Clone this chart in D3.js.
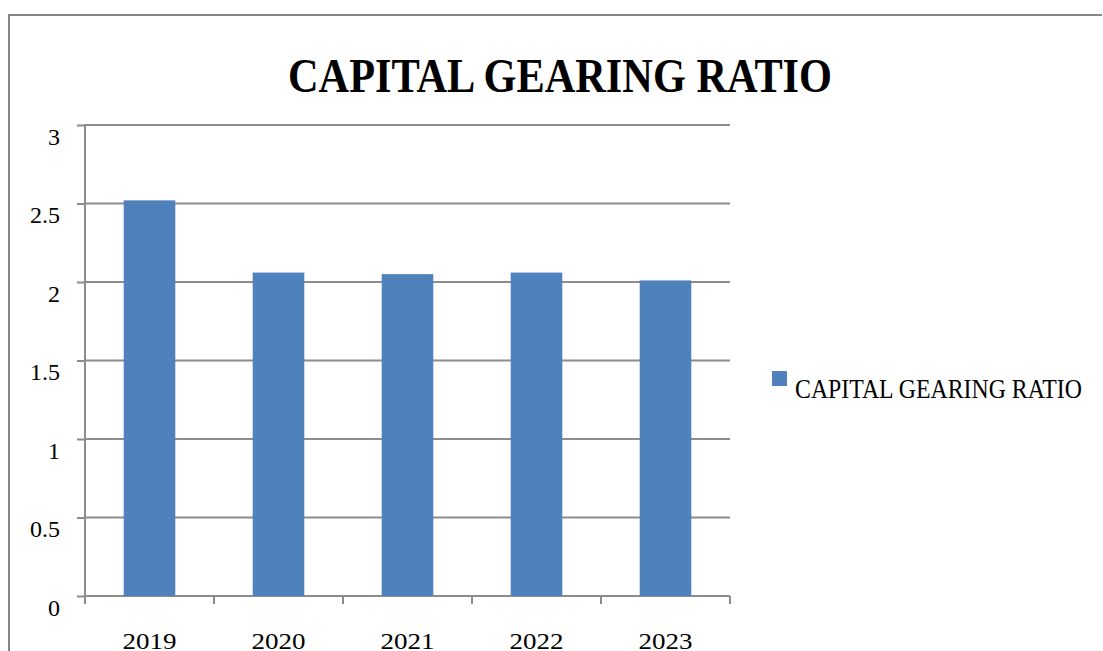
<!DOCTYPE html>
<html>
<head>
<meta charset="utf-8">
<script src="https://cdn.jsdelivr.net/npm/d3@7"></script>
<style>
  html, body { margin: 0; padding: 0; background: #fff; }
  svg { display: block; }
</style>
</head>
<body>
<svg id="chart" width="1103" height="651"></svg>
<script>
// Capital gearing ratio by year
const years = ["2019", "2020", "2021", "2022", "2023"];
const gearingRatio = [2.52, 2.06, 2.05, 2.06, 2.01];
const yTicks = [0, 0.5, 1, 1.5, 2, 2.5, 3];
const chartTitle = "CAPITAL GEARING RATIO";
const seriesName = "CAPITAL GEARING RATIO";

const svg = d3.select("#chart");
const W = 1103, H = 651;
const serif = "'Liberation Serif', 'DejaVu Serif', serif";
const gridColor = "#8c8c8c";
const barColor = "#4f81bd";

const plot = { left: 85, right: 730, top: 125, bottom: 596 };

// outer chart frame (runs off the right and bottom edges)
svg.append("path")
  .attr("d", `M9,${H + 5} L9,15 L${W - 1},15`)
  .attr("fill", "none")
  .attr("stroke", "#878787")
  .attr("stroke-width", 2);

// title
svg.append("text")
  .attr("x", 560)
  .attr("y", 92)
  .attr("text-anchor", "middle")
  .attr("font-family", serif)
  .attr("font-weight", "bold")
  .attr("font-size", 48)
  .attr("textLength", 544)
  .attr("lengthAdjust", "spacingAndGlyphs")
  .attr("fill", "#000")
  .text(chartTitle);

const x = d3.scaleBand()
  .domain(years)
  .range([plot.left, plot.right])
  .paddingInner(0.6)
  .paddingOuter(0.3);

const y = d3.scaleLinear()
  .domain([0, 3])
  .range([plot.bottom, plot.top]);

// horizontal gridlines
svg.append("g")
  .selectAll("line")
  .data(yTicks)
  .join("line")
  .attr("x1", plot.left)
  .attr("x2", plot.right)
  .attr("y1", d => y(d))
  .attr("y2", d => y(d))
  .attr("stroke", gridColor)
  .attr("stroke-width", 2);

// y axis with tick labels
const yAxis = d3.axisLeft(y)
  .tickValues(yTicks)
  .tickSize(8)
  .tickPadding(17)
  .tickFormat(d3.format("~g"));

const gy = svg.append("g")
  .attr("transform", `translate(${plot.left},0)`)
  .call(yAxis);
gy.select(".domain")
  .attr("stroke", gridColor)
  .attr("stroke-width", 2)
  .attr("d", `M0,${plot.top - 1}V${plot.bottom + 8}`);
gy.selectAll(".tick line").attr("stroke", gridColor).attr("stroke-width", 2);
gy.selectAll(".tick text")
  .attr("font-family", serif)
  .attr("font-size", 24)
  .attr("fill", "#000")
  .attr("dy", 0)
  .attr("y", 19);

// bars
svg.append("g")
  .selectAll("rect")
  .data(years.map((yr, i) => ({ yr, v: gearingRatio[i] })))
  .join("rect")
  .attr("x", d => x(d.yr))
  .attr("width", x.bandwidth())
  .attr("y", d => y(d.v))
  .attr("height", d => y(0) - y(d.v))
  .attr("fill", barColor);

// x axis: category labels centred on bars, ticks at category boundaries
const step = x.step();
const boundaries = d3.range(years.length + 1).map(i => plot.left + i * step);
svg.append("g")
  .selectAll("line")
  .data(boundaries)
  .join("line")
  .attr("x1", d => d)
  .attr("x2", d => d)
  .attr("y1", plot.bottom)
  .attr("y2", plot.bottom + 8)
  .attr("stroke", gridColor)
  .attr("stroke-width", 2);

const xAxis = d3.axisBottom(x).tickSize(0).tickPadding(0);
const gx = svg.append("g")
  .attr("transform", `translate(0,${plot.bottom})`)
  .call(xAxis);
gx.select(".domain").remove();
gx.selectAll(".tick text")
  .attr("font-family", serif)
  .attr("font-size", 24)
  .attr("fill", "#000")
  .attr("dy", 0)
  .attr("y", 53)
  .attr("textLength", 54)
  .attr("lengthAdjust", "spacingAndGlyphs");

// legend
const legend = svg.append("g").attr("transform", "translate(772,371)");
legend.append("rect")
  .attr("width", 15)
  .attr("height", 15)
  .attr("fill", barColor);
legend.append("text")
  .attr("x", 23)
  .attr("y", 27)
  .attr("font-family", serif)
  .attr("font-size", 27)
  .attr("textLength", 287)
  .attr("lengthAdjust", "spacingAndGlyphs")
  .attr("fill", "#000")
  .text(seriesName);
</script>
</body>
</html>
